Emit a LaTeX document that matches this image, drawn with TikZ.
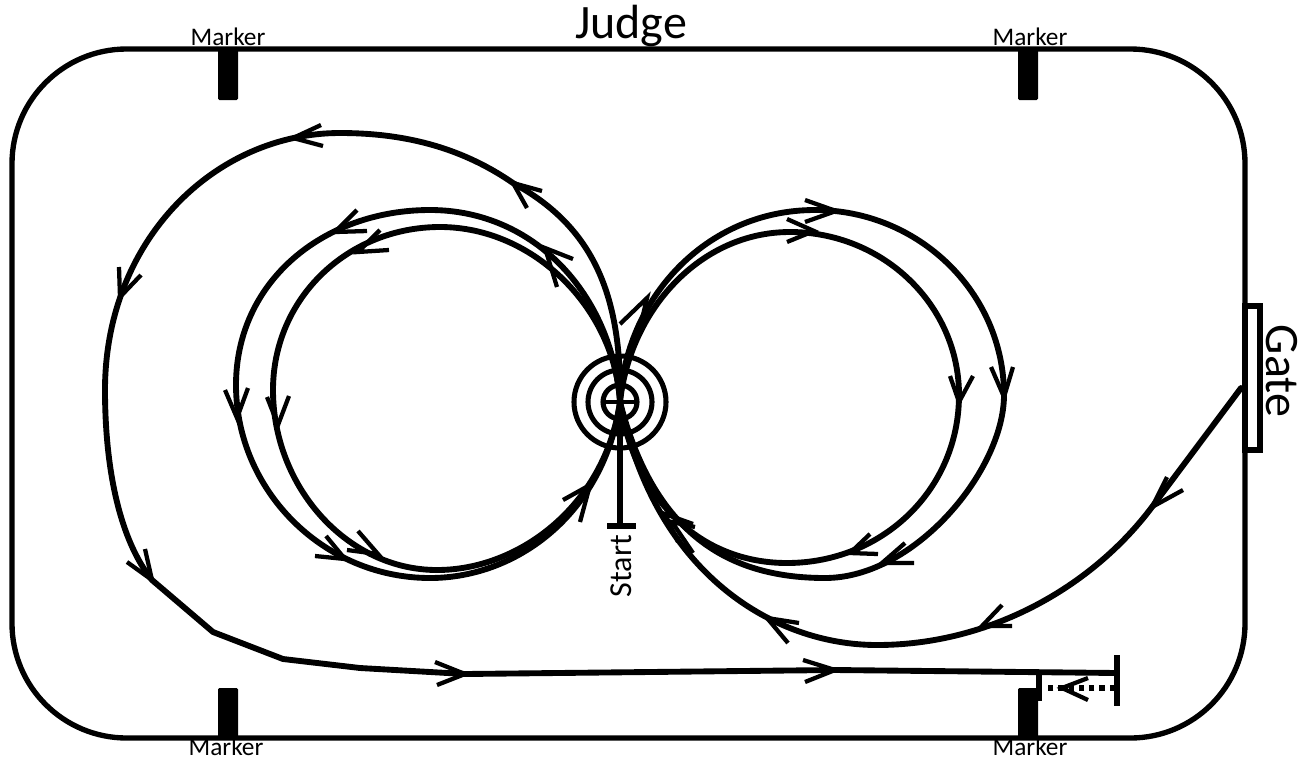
\documentclass[tikz,border=0pt]{standalone}
\usepackage{fontspec}
\setmainfont{Carlito}
\tikzset{
 trk/.style={line width=4.4pt,line join=round,line cap=round},
 frm/.style={line width=4pt},
 hd/.style={line width=3.2pt,line cap=butt,line join=miter},
 blk/.style={fill=black,draw=none},
 big/.style={font=\fontsize{36}{38}\selectfont,inner sep=0pt},
 mid/.style={font=\fontsize{19}{21}\selectfont,inner sep=0pt},
}
\newcommand{\vh}[6]{\draw[hd] (#3,#4) -- (#1,#2) -- (#5,#6);}
\begin{document}
\begin{tikzpicture}[x=0.75pt,y=-0.75pt]
\useasboundingbox (0,0) rectangle (1309,761);
% frame
\draw[frm,rounded corners=86pt] (12,49) rectangle (1245,738);
% markers
\fill[blk,rounded corners=1pt] (218,49) rectangle (238,100);
\fill[blk,rounded corners=1pt] (1018,49) rectangle (1038,100);
\fill[blk,rounded corners=1pt] (218,688) rectangle (238,738);
\fill[blk,rounded corners=1pt] (1018,688) rectangle (1038,738);
\node[mid] (m1) at (228,37) {Marker};
\node[mid] (m2) at (1030,37) {Marker};
\node[mid] (m3) at (226,747) {Marker};
\node[mid] (m4) at (1030,747) {Marker};
\node[big] (judge) at (631,26) {Judge};
% gate
\draw[frm,fill=white] (1245,306) rectangle (1260,450);
\node[big,rotate=-90] (gate) at (1282,371) {Gate};
% centre target
\coordinate (c) at (620,402);
\draw[line width=3.8pt] (c) circle (46);
\draw[line width=3.8pt] (c) circle (32);
\draw[line width=3.8pt] (c) circle (17);
\draw[line width=3.2pt] (604,402) -- (636,402);
\draw[line width=4pt] (620,402) -- (620,526);
\draw[line width=4.4pt] (607,526) -- (636,526);
\node[rotate=90,font=\fontsize{24}{26}\selectfont,inner sep=0pt] (start) at (621,566) {Start};
% left inner
\draw[trk] (620,402) .. controls (615,310) and (535,227) .. (440,227)
  .. controls (348,227) and (273,298) .. (273,390)
  .. controls (273,487) and (347,570) .. (437,570)
  .. controls (520,570) and (605,505) .. (620,402);
% left outer
\draw[trk] (620,402) .. controls (612,295) and (535,210) .. (430,210)
  .. controls (323,210) and (236,282) .. (236,385)
  .. controls (236,490) and (323,578) .. (430,578)
  .. controls (520,578) and (605,510) .. (620,402);
% right inner
\draw[trk] (620,402) .. controls (630,310) and (700,232) .. (790,232)
  .. controls (883,232) and (959,305) .. (959,395)
  .. controls (959,490) and (882,563) .. (787,563)
  .. controls (700,563) and (635,500) .. (620,402);
% right outer
\draw[trk] (620,402) .. controls (625,300) and (705,210) .. (815,210)
  .. controls (919,210) and (1004,293) .. (1004,395)
  .. controls (1004,470) and (915,578) .. (825,578)
  .. controls (735,578) and (655,540) .. (620,402);
% gate entry and big sweep
\draw[trk] (1241,388) -- (1152,507)
  .. controls (1092,587) and (990,645) .. (877,645)
  .. controls (775,645) and (655,575) .. (620,402)
  .. controls (622,290) and (590,225) .. (513,183)
  .. controls (465,150) and (410,133) .. (340,133)
  .. controls (215,133) and (105,240) .. (105,390)
  .. controls (105,470) and (120,540) .. (152,580)
  -- (213,632) -- (283,659) -- (360,668) -- (465,674)
  -- (835,670) -- (1117,673);
\draw[line width=4pt] (1117,655) -- (1117,706);
\draw[line width=4pt] (1039,673) -- (1039,701);
\draw[line width=4.2pt,dash pattern=on 4pt off 3.7pt] (1115,688) -- (1044,688);
% arrowheads
\vh{1004}{397}{991}{367}{1013}{367}
\vh{959}{402}{950}{376}{973}{376}
\vh{836}{211}{805}{200}{805}{222}
\vh{814}{231}{787}{219}{787}{242}
\vh{647}{298}{620}{324}{638}{336}
\vh{850}{553}{870}{534}{878}{554}
\vh{882}{563}{905}{543}{914}{563}
\vh{665}{514}{693}{524}{678}{542}
\vh{672}{522}{695}{527}{693}{553}
\vh{1152}{507}{1167}{477}{1183}{490}
\vh{982}{626}{1002}{605}{1012}{626}
\vh{767}{618}{799}{623}{788}{643}
\vh{513}{183}{542}{191}{527}{208}
\vh{545}{248}{573}{259}{557}{287}
\vh{335}{232}{357}{210}{367}{231}
\vh{358}{252}{380}{230}{389}{250}
\vh{293}{138}{321}{125}{323}{146}
\vh{120}{297}{119}{267}{141}{275}
\vh{237}{418}{225}{390}{248}{388}
\vh{278}{425}{267}{397}{289}{396}
\vh{152}{580}{127}{562}{145}{549}
\vh{345}{559}{315}{556}{326}{536}
\vh{378}{554}{347}{550}{358}{531}
\vh{590}{485}{563}{500}{580}{522}
\vh{465}{674}{435}{662}{437}{685}
\vh{835}{670}{803}{660}{805}{682}
\vh{1062}{688}{1088}{678}{1088}{700}
\end{tikzpicture}
\end{document}
